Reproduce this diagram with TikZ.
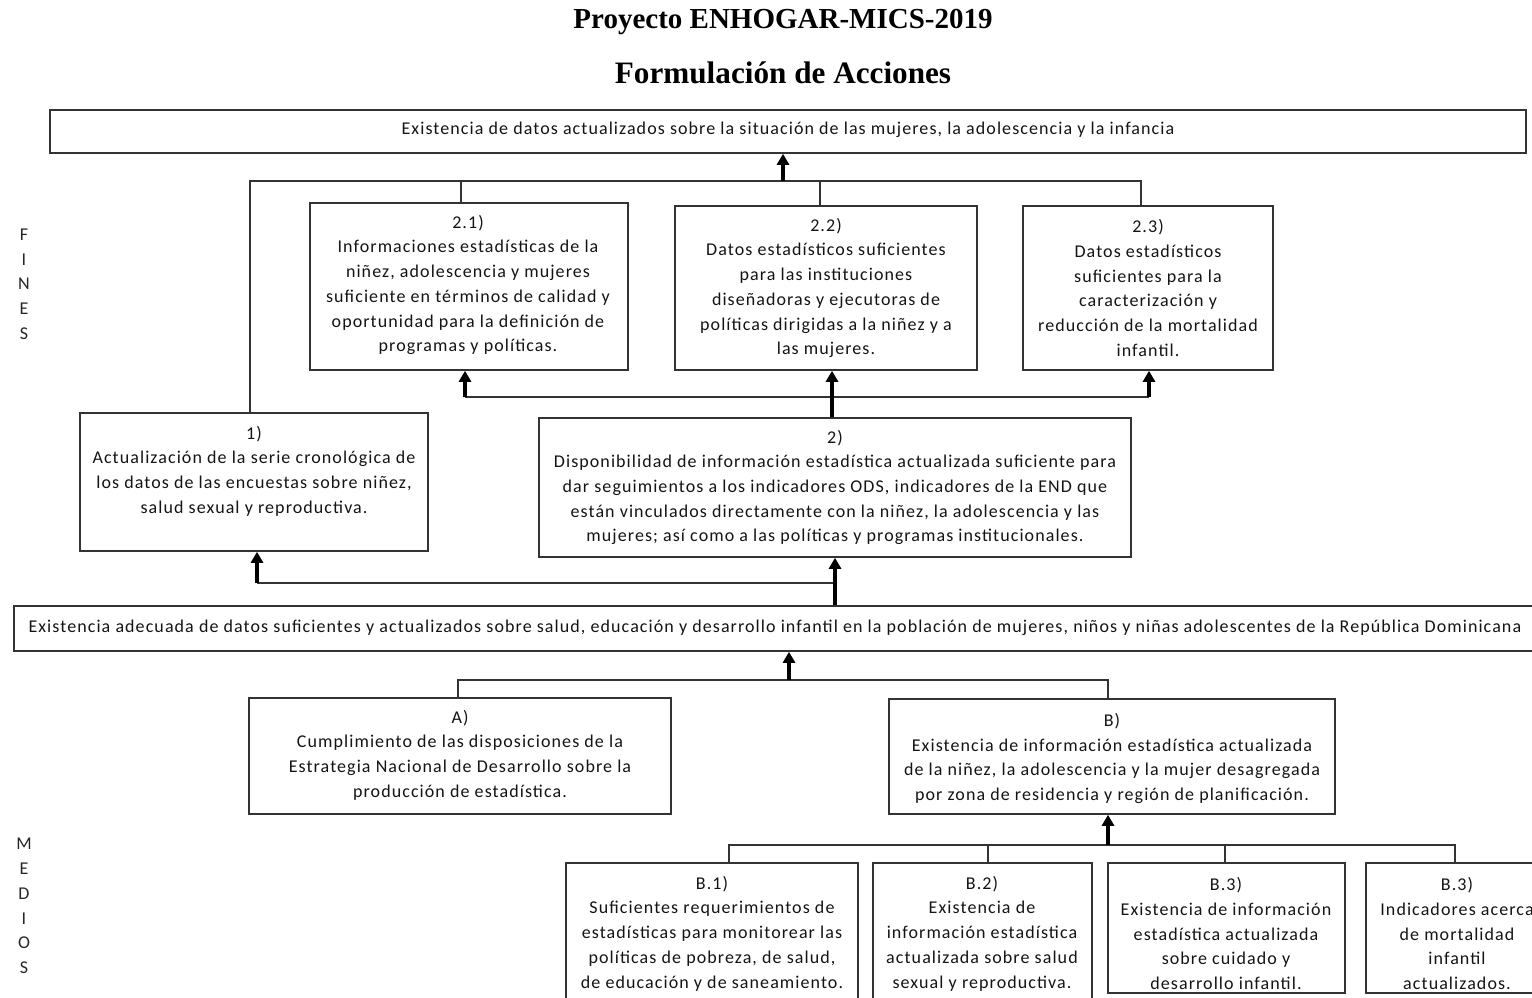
\documentclass[tikz,border=0pt]{standalone}
\usepackage{fontspec}
\setmainfont{Carlito}[LetterSpace=6]
\newfontfamily\titlefont{Liberation Serif}
\usetikzlibrary{arrows.meta,calc}
\begin{document}
\begin{tikzpicture}[x=1pt,y=-1pt,
  box/.style={draw=black!80, line width=1.6pt, inner sep=0pt},
  txt/.style={align=center, font=\fontsize{18}{24.7}\selectfont, inner sep=0pt, text=black!92},
  side/.style={align=center, font=\fontsize{18}{24.7}\selectfont, inner sep=0pt, text=black!85},
  ttl/.style={font=\titlefont\bfseries\fontsize{29}{34}\selectfont, inner sep=0pt},
  ln/.style={draw=black!80, line width=1.5pt},
  arr/.style={draw=black, line width=3.2pt, -{Triangle[width=12pt,length=11pt]}},
]
\useasboundingbox (0,0) rectangle (1532,998);
\clip (0,0) rectangle (1532,998);

% titles
\node[ttl] (t1) at (783,21.5) {Proyecto ENHOGAR-MICS-2019};
\node[ttl, font=\titlefont\bfseries\fontsize{31.2}{34}\selectfont] (t2) at (783,73) {Formulación de Acciones};

% side labels
\node[side] (fines) at (24,284) {F\\I\\N\\E\\S};
\node[side] (medios) at (24,906) {M\\E\\D\\I\\O\\S};

% boxes
\node[box, minimum width=1476pt, minimum height=43pt] (top) at (788,131.5) {};
\node[box, minimum width=318pt, minimum height=167pt] (b21) at (469,286.5) {};
\node[box, minimum width=302pt, minimum height=164pt] (b22) at (826,288) {};
\node[box, minimum width=250pt, minimum height=164pt] (b23) at (1148,288) {};
\node[box, minimum width=348pt, minimum height=138pt] (b1) at (254,482) {};
\node[box, minimum width=592pt, minimum height=139pt] (b2) at (835,487.5) {};
\node[box, minimum width=1531pt, minimum height=45pt] (big) at (779.5,628.5) {};
\node[box, minimum width=422pt, minimum height=116pt] (bA) at (460,756) {};
\node[box, minimum width=446pt, minimum height=115pt] (bB) at (1112,756.5) {};
\node[box, minimum width=292pt, minimum height=147pt] (bB1) at (712,936.5) {};
\node[box, minimum width=219pt, minimum height=147pt] (bB2) at (982.5,936.5) {};
\node[box, minimum width=237pt, minimum height=130pt] (bB3) at (1226.5,928) {};
\node[box, minimum width=182pt, minimum height=130pt] (bB4) at (1457,928) {};

% texts
\node[txt] (ttop) at (788,130) {Existencia de datos actualizados sobre la situación de las mujeres, la adolescencia y la infancia};
\node[txt] (t21) at (468,285) {2.1)\\Informaciones estadísticas de la\\niñez, adolescencia y mujeres\\suficiente en términos de calidad y\\oportunidad para la definición de\\programas y políticas.};
\node[txt] (t22) at (826,288) {2.2)\\Datos estadísticos suficientes\\para las instituciones\\diseñadoras y ejecutoras de\\políticas dirigidas a la niñez y a\\las mujeres.};
\node[txt] (t23) at (1148,288) {2.3)\\Datos estadísticos\\suficientes para la\\caracterización y\\reducción de la mortalidad\\infantil.};
\node[txt] (t1b) at (254,471) {1)\\Actualización de la serie cronológica de\\los datos de las encuestas sobre niñez,\\salud sexual y reproductiva.};
\node[txt] (t2b) at (835,487.5) {2)\\Disponibilidad de información estadística actualizada suficiente para\\dar seguimientos a los indicadores ODS, indicadores de la END que\\están vinculados directamente con la niñez, la adolescencia y las\\mujeres; así como a las políticas y programas institucionales.};
\node[txt] (tbig) at (775,628) {Existencia adecuada de datos suficientes y actualizados sobre salud, educación y desarrollo infantil en la población de mujeres, niños y niñas adolescentes de la República Dominicana};
\node[txt] (tA) at (460,755) {A)\\Cumplimiento de las disposiciones de la\\Estrategia Nacional de Desarrollo sobre la\\producción de estadística.};
\node[txt] (tB) at (1112,758.5) {B)\\Existencia de información estadística actualizada\\de la niñez, la adolescencia y la mujer desagregada\\por zona de residencia y región de planificación.};
\node[txt] (tB1) at (712,933.5) {B.1)\\Suficientes requerimientos de\\estadísticas para monitorear las\\políticas de pobreza, de salud,\\de educación y de saneamiento.};
\node[txt] (tB2) at (982,933.5) {B.2)\\Existencia de\\información estadística\\actualizada sobre salud\\sexual y reproductiva.};
\node[txt] (tB3) at (1226,933.5) {B.3)\\Existencia de información\\estadística actualizada\\sobre cuidado y\\desarrollo infantil.};
\node[txt] (tB4) at (1457,933.5) {B.3)\\Indicadores acerca\\de mortalidad\\infantil\\actualizados.};

% junction coordinates
\coordinate (r1) at (783,181);
\coordinate (r2) at (832,397);
\coordinate (r3) at (835,583);
\coordinate (r4) at (789,680);
\coordinate (r5) at (1108,845);

% fines: upper level
\coordinate (s1) at ($(b1.north)+(-4,0)$);
\coordinate (s21) at ($(b21.north)+(-8,0)$);
\coordinate (s22) at ($(b22.north)+(-6,0)$);
\coordinate (s23) at ($(b23.north)+(-7,0)$);
\draw[ln] (s1) |- (s23 |- r1) -- (s23);
\draw[ln] (s21 |- r1) -- (s21);
\draw[ln] (s22 |- r1) -- (s22);
\draw[arr] (r1) -- (r1 |- top.south);

% fines: middle level
\coordinate (a21) at ($(b21.south)+(-4,0)$);
\coordinate (a23) at ($(b23.south)+(1,0)$);
\draw[ln] (a21 |- r2) -- (a23 |- r2);
\draw[arr] (a21 |- r2) -- (a21);
\draw[arr] (a23 |- r2) -- (a23);
\draw[arr] (r2 |- b2.north) -- (r2 |- b22.south);

% fines: lower level
\coordinate (a1) at ($(b1.south)+(3,0)$);
\draw[ln] (a1 |- r3) -- (r3);
\draw[arr] (a1 |- r3) -- (a1);
\draw[arr] (r3 |- big.north) -- (r3 |- b2.south);

% medios
\coordinate (sA) at ($(bA.north)+(-2,0)$);
\coordinate (sB) at ($(bB.north)+(-4,0)$);
\draw[ln] (sA) |- (sB |- r4) -- (sB);
\draw[arr] (r4) -- (r4 |- big.south);

\coordinate (sB1) at ($(bB1.north)+(17,0)$);
\coordinate (sB2) at ($(bB2.north)+(5.5,0)$);
\coordinate (sB3) at ($(bB3.north)+(-1.5,0)$);
\coordinate (sB4) at ($(bB4.north)+(-2,0)$);
\draw[ln] (sB1) |- (sB4 |- r5) -- (sB4);
\draw[ln] (sB2 |- r5) -- (sB2);
\draw[ln] (sB3 |- r5) -- (sB3);
\draw[arr] (r5) -- (r5 |- bB.south);
\end{tikzpicture}
\end{document}
